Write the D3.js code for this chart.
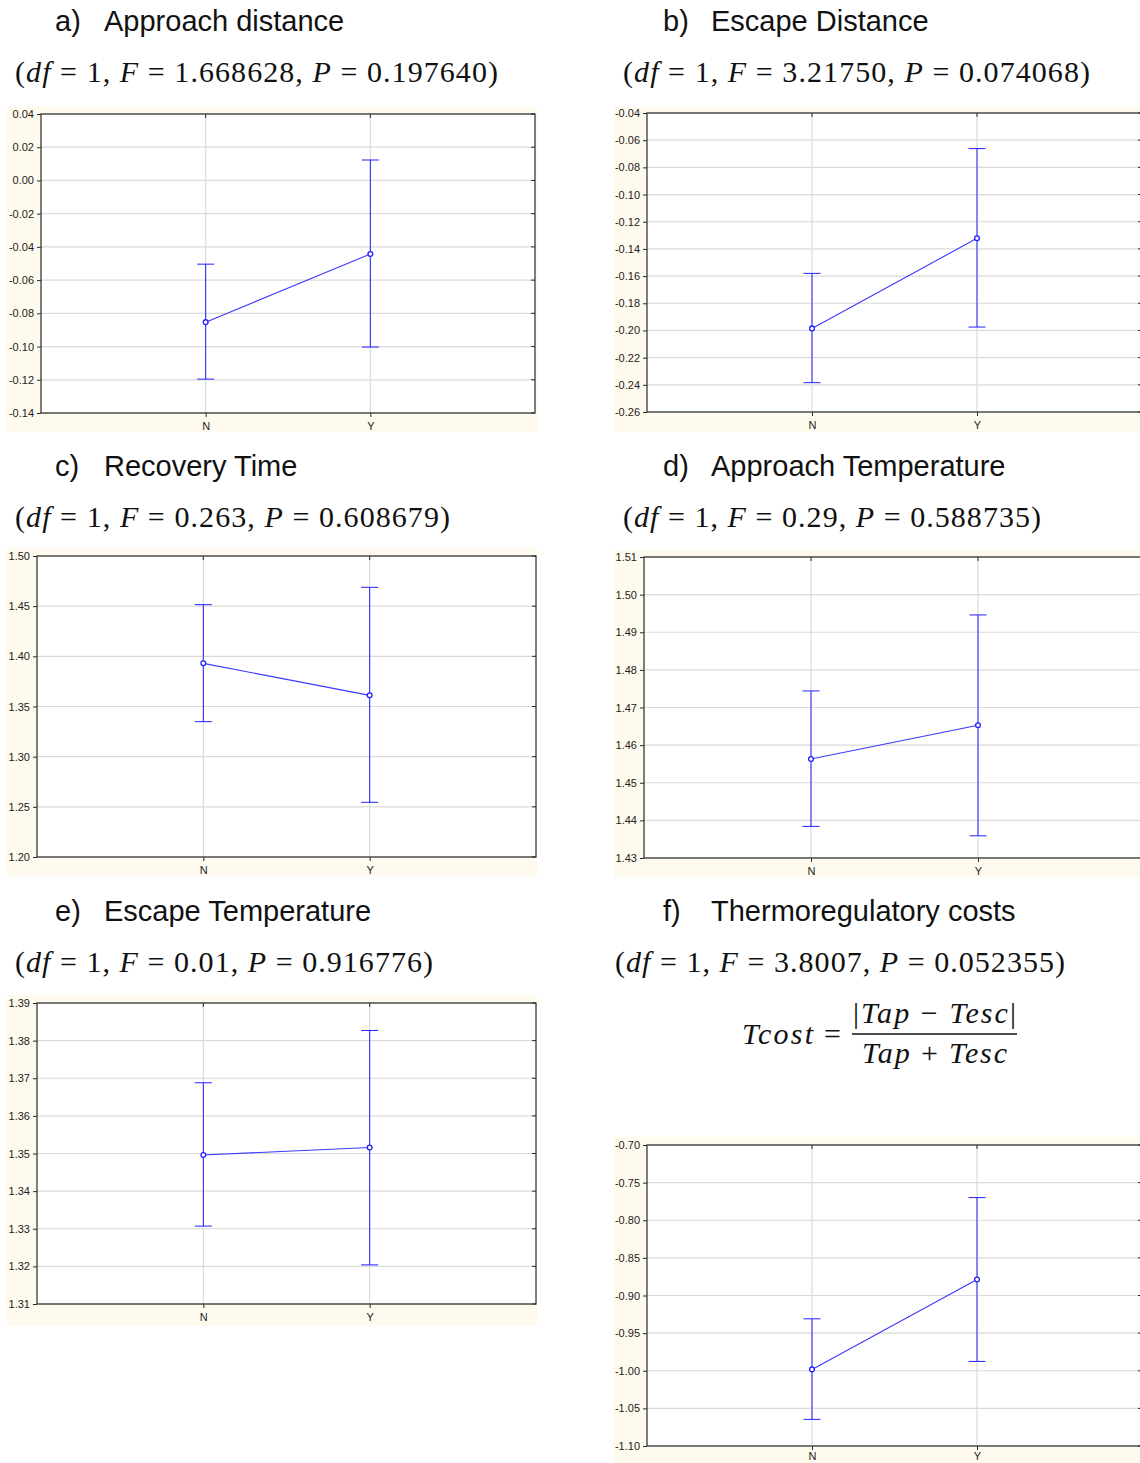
<!DOCTYPE html>
<html>
<head>
<meta charset="utf-8">
<script src="https://cdn.jsdelivr.net/npm/d3@7"></script>
<style>
html,body{margin:0;padding:0;background:#fff;}
svg{display:block;}
</style>
</head>
<body>
<svg id="chart" width="1140" height="1463"></svg>
<script>
// ---------- data ----------
const categories = ["N", "Y"];

const approachDistanceMean  = [-0.0853, -0.0443];
const approachDistanceUpper = [-0.0504,  0.0123];
const approachDistanceLower = [-0.1196, -0.1003];
const approachDistanceTicks = [0.04, 0.02, 0.00, -0.02, -0.04, -0.06, -0.08, -0.10, -0.12, -0.14];

const escapeDistanceMean  = [-0.1985, -0.1322];
const escapeDistanceUpper = [-0.1580, -0.0662];
const escapeDistanceLower = [-0.2384, -0.1975];
const escapeDistanceTicks = [-0.04, -0.06, -0.08, -0.10, -0.12, -0.14, -0.16, -0.18, -0.20, -0.22, -0.24, -0.26];

const recoveryTimeMean  = [1.3930, 1.3611];
const recoveryTimeUpper = [1.4515, 1.4688];
const recoveryTimeLower = [1.3349, 1.2545];
const recoveryTimeTicks = [1.50, 1.45, 1.40, 1.35, 1.30, 1.25, 1.20];

const approachTempMean  = [1.4563, 1.4653];
const approachTempUpper = [1.4744, 1.4946];
const approachTempLower = [1.4384, 1.4359];
const approachTempTicks = [1.51, 1.50, 1.49, 1.48, 1.47, 1.46, 1.45, 1.44, 1.43];

const escapeTempMean  = [1.3496, 1.3516];
const escapeTempUpper = [1.3688, 1.3827];
const escapeTempLower = [1.3307, 1.3204];
const escapeTempTicks = [1.39, 1.38, 1.37, 1.36, 1.35, 1.34, 1.33, 1.32, 1.31];

const thermoCostMean  = [-0.9982, -0.8788];
const thermoCostUpper = [-0.9310, -0.7699];
const thermoCostLower = [-1.0646, -0.9876];
const thermoCostTicks = [-0.70, -0.75, -0.80, -0.85, -0.90, -0.95, -1.00, -1.05, -1.10];

const panelLetters = ["a)", "b)", "c)", "d)", "e)", "f)"];
const panelTitles = ["Approach distance", "Escape Distance", "Recovery Time",
                     "Approach Temperature", "Escape Temperature", "Thermoregulatory costs"];
const panelF = ["1.668628", "3.21750", "0.263", "0.29", "0.01", "3.8007"];
const panelP = ["0.197640", "0.074068", "0.608679", "0.588735", "0.916776", "0.052355"];
const panelDf = [1, 1, 1, 1, 1, 1];

// ---------- layout ----------
const layouts = [
  {plot:[41, 114, 494, 299], bg:[7, 107, 537, 432],  title:[55, 104, 31],  stats:[15, 82, 483], xpad:5},
  {plot:[647, 113, 495, 299], bg:[614, 107, 1140, 432], title:[663, 711, 31], stats:[623, 82, 467], xpad:5},
  {plot:[37, 556, 499, 301], bg:[7, 548, 537, 876],  title:[55, 104, 476], stats:[15, 527, 435], xpad:5},
  {plot:[644, 557, 501, 301], bg:[614, 550, 1140, 877], title:[663, 711, 476], stats:[623, 527, 418], xpad:5},
  {plot:[37, 1003, 499, 301], bg:[7, 995, 537, 1326], title:[55, 104, 921], stats:[15, 972, 418], xpad:5},
  {plot:[647, 1145, 495, 301], bg:[614, 1137, 1140, 1463], title:[663, 711, 921], stats:[615, 972, 450], xpad:2}
];

const series = [
  {mean: approachDistanceMean, up: approachDistanceUpper, lo: approachDistanceLower, ticks: approachDistanceTicks},
  {mean: escapeDistanceMean,   up: escapeDistanceUpper,   lo: escapeDistanceLower,   ticks: escapeDistanceTicks},
  {mean: recoveryTimeMean,     up: recoveryTimeUpper,     lo: recoveryTimeLower,     ticks: recoveryTimeTicks},
  {mean: approachTempMean,     up: approachTempUpper,     lo: approachTempLower,     ticks: approachTempTicks},
  {mean: escapeTempMean,       up: escapeTempUpper,       lo: escapeTempLower,       ticks: escapeTempTicks},
  {mean: thermoCostMean,       up: thermoCostUpper,       lo: thermoCostLower,       ticks: thermoCostTicks}
];

const locale = d3.formatLocale({decimal: ".", thousands: ",", grouping: [3], currency: ["", ""], minus: "-"});
const fmt = locale.format(".2f");

const svg = d3.select("#chart");
const BLUE = "#2222ff";
const GRID = "#dadada";
const FRAME = "#2a2a2a";
const SANS = "'Liberation Sans', Arial, sans-serif";
const SERIF = "'Liberation Serif', 'Times New Roman', serif";

function drawPanel(i) {
  const lay = layouts[i], s = series[i];
  const [L, T, W, H] = lay.plot;
  const g = svg.append("g");

  // beige background
  g.append("rect")
    .attr("x", lay.bg[0]).attr("y", lay.bg[1])
    .attr("width", lay.bg[2] - lay.bg[0]).attr("height", lay.bg[3] - lay.bg[1])
    .attr("fill", "#fffaee");
  g.append("rect").attr("x", L).attr("y", T).attr("width", W).attr("height", H).attr("fill", "#fff");

  const x = d3.scalePoint().domain(categories).range([L, L + W]).padding(1);
  const y = d3.scaleLinear().domain(d3.extent(s.ticks)).range([T + H, T]);

  // grid
  g.append("g").selectAll("line").data(s.ticks).join("line")
    .attr("x1", L).attr("x2", L + W)
    .attr("y1", d => y(d)).attr("y2", d => y(d))
    .attr("stroke", GRID).attr("stroke-width", 1.2);
  g.append("g").selectAll("line").data(categories).join("line")
    .attr("x1", d => x(d)).attr("x2", d => x(d))
    .attr("y1", T).attr("y2", T + H)
    .attr("stroke", GRID).attr("stroke-width", 1.2);

  // right and top inward ticks
  g.append("g").selectAll("line").data(s.ticks).join("line")
    .attr("x1", L + W - 4).attr("x2", L + W)
    .attr("y1", d => y(d)).attr("y2", d => y(d))
    .attr("stroke", FRAME).attr("stroke-width", 1);
  g.append("g").selectAll("line").data(categories).join("line")
    .attr("x1", d => x(d)).attr("x2", d => x(d))
    .attr("y1", T).attr("y2", T + 4)
    .attr("stroke", FRAME).attr("stroke-width", 1);

  // frame
  g.append("rect").attr("x", L).attr("y", T).attr("width", W).attr("height", H)
    .attr("fill", "none").attr("stroke", FRAME).attr("stroke-width", 1.2);

  // axes
  const ay = g.append("g").attr("transform", `translate(${L},0)`)
    .call(d3.axisLeft(y).tickValues(s.ticks).tickSize(4).tickPadding(3).tickFormat(fmt));
  ay.select(".domain").remove();
  ay.selectAll("line").attr("stroke", FRAME);
  ay.selectAll("text").attr("font-family", SANS).attr("font-size", 11).attr("fill", "#222");

  const ax = g.append("g").attr("transform", `translate(0,${T + H})`)
    .call(d3.axisBottom(x).tickSize(4).tickPadding(lay.xpad));
  ax.select(".domain").remove();
  ax.selectAll("line").attr("stroke", FRAME);
  ax.selectAll("text").attr("font-family", SANS).attr("font-size", 11).attr("fill", "#222");

  // error bars
  const eb = g.append("g").attr("stroke", BLUE).attr("stroke-width", 1);
  categories.forEach((c, k) => {
    const cx = x(c);
    eb.append("line").attr("x1", cx).attr("x2", cx).attr("y1", y(s.up[k])).attr("y2", y(s.lo[k]));
    eb.append("line").attr("x1", cx - 8.5).attr("x2", cx + 8.5).attr("y1", y(s.up[k])).attr("y2", y(s.up[k]));
    eb.append("line").attr("x1", cx - 8.5).attr("x2", cx + 8.5).attr("y1", y(s.lo[k])).attr("y2", y(s.lo[k]));
  });

  // mean line
  const pts = categories.map((c, k) => [x(c), y(s.mean[k])]);
  g.append("path").attr("d", d3.line()(pts))
    .attr("fill", "none").attr("stroke", "#3a3aff").attr("stroke-width", 1.1);
  g.append("g").selectAll("circle").data(pts).join("circle")
    .attr("cx", d => d[0]).attr("cy", d => d[1]).attr("r", 2.4)
    .attr("fill", "#fff").attr("stroke", BLUE).attr("stroke-width", 1.3);

  // titles
  const [lx, tx, ty] = lay.title;
  svg.append("text").attr("x", lx).attr("y", ty).text(panelLetters[i])
    .attr("font-family", SANS).attr("font-size", 29).attr("fill", "#111");
  svg.append("text").attr("x", tx).attr("y", ty).text(panelTitles[i])
    .attr("font-family", SANS).attr("font-size", 29).attr("fill", "#111");

  // stats line
  const [sx, sy, sw] = lay.stats;
  const st = svg.append("text").attr("x", sx).attr("y", sy)
    .attr("font-family", SERIF).attr("font-size", 30).attr("fill", "#111")
    .attr("textLength", sw).attr("lengthAdjust", "spacing");
  st.append("tspan").text("(");
  st.append("tspan").attr("font-style", "italic").text("df");
  st.append("tspan").text(" = " + panelDf[i] + ", ");
  st.append("tspan").attr("font-style", "italic").text("F");
  st.append("tspan").text(" = " + panelF[i] + ", ");
  st.append("tspan").attr("font-style", "italic").text("P");
  st.append("tspan").text(" = " + panelP[i] + ")");
}

for (let i = 0; i < 6; i++) drawPanel(i);

// formula in panel f
const fg = svg.append("g").attr("font-family", SERIF).attr("font-size", 30).attr("fill", "#111");
fg.append("text").attr("x", 742).attr("y", 1044).attr("font-style", "italic")
  .attr("textLength", 71).attr("lengthAdjust", "spacing").text("Tcost");
fg.append("text").attr("x", 824).attr("y", 1044).text("=");
const num = fg.append("text").attr("x", 853).attr("y", 1023).attr("textLength", 163).attr("lengthAdjust", "spacing");
num.append("tspan").text("|");
num.append("tspan").attr("font-style", "italic").text("Tap");
num.append("tspan").text(" \u2212 ");
num.append("tspan").attr("font-style", "italic").text("Tesc");
num.append("tspan").text("|");
fg.append("line").attr("x1", 852).attr("x2", 1017).attr("y1", 1034).attr("y2", 1034)
  .attr("stroke", "#111").attr("stroke-width", 1.3);
const den = fg.append("text").attr("x", 862).attr("y", 1063).attr("textLength", 145).attr("lengthAdjust", "spacing");
den.append("tspan").attr("font-style", "italic").text("Tap");
den.append("tspan").text(" + ");
den.append("tspan").attr("font-style", "italic").text("Tesc");
</script>
</body>
</html>
